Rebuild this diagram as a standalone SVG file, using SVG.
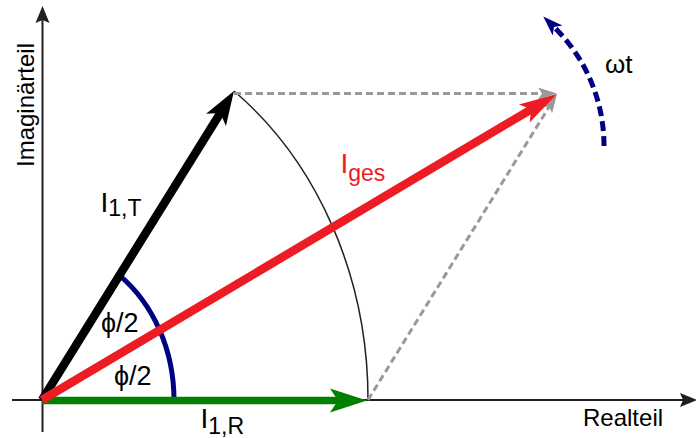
<svg xmlns="http://www.w3.org/2000/svg" width="696" height="438" viewBox="0 0 696 438">
  <style>
    .lbl { font-family: "Liberation Sans", Arial, sans-serif; fill: #000; }
    .axis { stroke: #231F20; stroke-width: 2; fill: none; }
    .vec { fill: none; stroke-linecap: butt; }
    .dash { fill: none; stroke: #999; stroke-width: 3; stroke-dasharray: 7 4; }
  </style>
  <defs>
    <marker id="ahAxis" markerUnits="userSpaceOnUse" orient="auto" refX="3" refY="0" markerWidth="20" markerHeight="20" overflow="visible">
      <path d="M0,-7 L17,0 L0,7 L3,0 Z" fill="#231F20"/>
    </marker>
    <marker id="ahBlack" markerUnits="userSpaceOnUse" orient="auto" refX="10" refY="0" markerWidth="40" markerHeight="30" overflow="visible">
      <path d="M0,-11.7 L34,0 L0,11.7 L8,0 Z" fill="#000"/>
    </marker>
    <marker id="ahGreen" markerUnits="userSpaceOnUse" orient="auto" refX="10" refY="0" markerWidth="40" markerHeight="30" overflow="visible">
      <path d="M0,-12 L37,0 L0,12 L8,0 Z" fill="#008000"/>
    </marker>
    <marker id="ahRed" markerUnits="userSpaceOnUse" orient="auto" refX="10" refY="0" markerWidth="40" markerHeight="30" overflow="visible">
      <path d="M0,-10.5 L38,0 L0,10.5 L8,0 Z" fill="#ED1C24"/>
    </marker>
    <marker id="ahGray" markerUnits="userSpaceOnUse" orient="auto" refX="4" refY="0" markerWidth="20" markerHeight="20" overflow="visible">
      <path d="M0,-6 L19,0 L0,6 L4,0 Z" fill="#999"/>
    </marker>
    <marker id="ahBlue" markerUnits="userSpaceOnUse" orient="auto" refX="5" refY="0" markerWidth="24" markerHeight="20" overflow="visible">
      <path d="M0,-7 L20,0 L0,7 L5,0 Z" fill="#000080"/>
    </marker>
  </defs>
  <rect width="696" height="438" fill="#fff"/>

  <g id="axes">
    <path class="axis" d="M42.5,432 L42.5,20" marker-end="url(#ahAxis)"/>
    <path class="axis" d="M12,400 L683,400" marker-end="url(#ahAxis)"/>
    <text class="lbl" font-size="24" text-anchor="middle" transform="translate(34,105) rotate(-90)">Imaginärteil</text>
    <text class="lbl" font-size="24" x="583" y="426">Realteil</text>
  </g>

  <g id="arcs">
    <path d="M368,400 A326,382 0 0 0 234,91" fill="none" stroke="#231F20" stroke-width="1.5"/>
    <path d="M174,400 A132,154 0 0 0 119.5,275.3" fill="none" stroke="#000080" stroke-width="5"/>
    <path d="M604,146 A166,166 0 0 0 554,27" fill="none" stroke="#000080" stroke-width="5" stroke-dasharray="10 5" marker-end="url(#ahBlue)"/>
  </g>

  <g id="connectors">
    <path class="dash" d="M234,93.5 L542,93.5" marker-end="url(#ahGray)"/>
    <path class="dash" d="M368,400 L549.1,106.8" marker-end="url(#ahGray)"/>
    <path class="vec" d="M42,400.5 L340,400.5" stroke="#008000" stroke-width="7.5" marker-end="url(#ahGreen)"/>
    <path class="vec" d="M42,400 L221.3,111.4" stroke="#000" stroke-width="8.5" marker-end="url(#ahBlack)"/>
    <path class="vec" d="M42,400 L532.9,108.3" stroke="#ED1C24" stroke-width="8.5" marker-end="url(#ahRed)"/>
  </g>

  <g id="labels">
    <text class="lbl" font-size="28" x="100.5" y="212">I<tspan font-size="23" dy="4">1,T</tspan></text>
    <text class="lbl" font-size="28" x="200.5" y="428">I<tspan font-size="23" dy="6">1,R</tspan></text>
    <text class="lbl" font-size="28" x="340.5" y="173" style="fill:#ED1C24">I<tspan font-size="23" dy="8">ges</tspan></text>
    <text class="lbl" font-size="27" x="101" y="332">ϕ/2</text>
    <text class="lbl" font-size="27" x="114" y="385">ϕ/2</text>
    <text class="lbl" font-size="26" x="605" y="73">ωt</text>
  </g>
</svg>
